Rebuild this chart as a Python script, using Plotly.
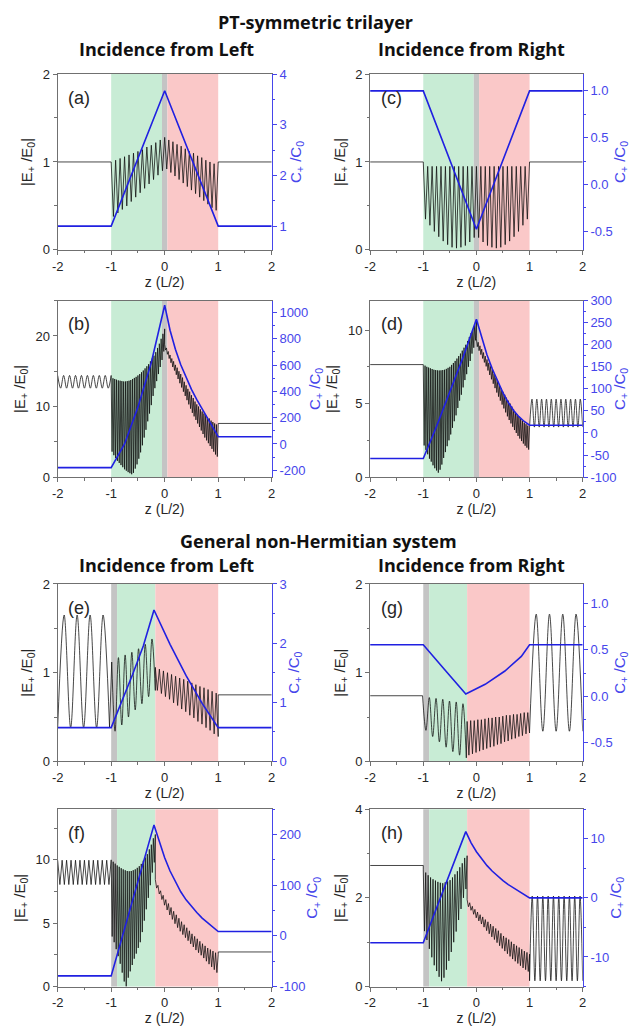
import numpy as np
import plotly.graph_objects as go
from plotly.subplots import make_subplots

# ---------------- data ----------------
X_TICKS = [-2, -1, 0, 1, 2]

PT_REGIONS = [("green", -1.0, -0.05), ("gray", -0.05, 0.05), ("pink", 0.05, 1.0)]
GEN_REGIONS = [("gray", -1.0, -0.89), ("green", -0.89, -0.175), ("pink", -0.175, 1.0)]

# (a) PT, incidence from left
A_SEG_BOUNDS = [(-2, -1), (-1, 0), (0, 1), (1, 2)]
A_SEG_E = [
    [1.0, 1.0],
    [1.0, 0.38, 1.02, 0.42, 1.04, 0.46, 1.06, 0.50, 1.08, 0.55, 1.10, 0.60, 1.12, 0.65,
     1.14, 0.70, 1.17, 0.75, 1.19, 0.80, 1.22, 0.85, 1.25, 0.90, 1.28],
    [1.28, 0.92, 1.25, 0.88, 1.23, 0.84, 1.20, 0.80, 1.18, 0.76, 1.15, 0.72, 1.12, 0.68,
     1.10, 0.64, 1.07, 0.60, 1.05, 0.56, 1.02, 0.52, 1.00, 0.48, 0.98, 0.45, 1.0],
    [1.0, 1.0],
]
A_BLUE_Z = [-2, -1, 0, 1, 2]
A_BLUE_C = [1.0, 1.0, 3.67, 1.0, 1.0]

# (c) PT, incidence from right
C_SEG_BOUNDS = [(-2, -1), (-1, 1), (1, 2)]
C_SEG_E = [
    [1.0, 1.0],
    [1.0, 0.35, 0.95, 0.28, 0.95, 0.21, 0.95, 0.15, 0.95, 0.10, 0.95, 0.06, 0.95, 0.03,
     0.95, 0.02, 0.95, 0.03, 0.95, 0.05, 0.95, 0.09, 0.95, 0.14, 0.95, 0.14, 0.95, 0.09,
     0.95, 0.05, 0.95, 0.03, 0.95, 0.02, 0.95, 0.03, 0.95, 0.06, 0.95, 0.10, 0.95, 0.15,
     0.95, 0.21, 0.95, 0.28, 0.95, 0.35, 1.0],
    [1.0, 1.0],
]
C_BLUE_Z = [-2, -1, 0, 1, 2]
C_BLUE_C = [1.0, 1.0, -0.48, 1.0, 1.0]

# (b) PT, left, amplified
B_SEG_BOUNDS = [(-2, -1), (-1, 0), (0, 1), (1, 2)]
B_SEG_E = [
    [14.4, 12.6, 14.4, 12.6, 14.4, 12.6, 14.4, 12.6, 14.4, 12.6, 14.4, 12.6, 14.4, 12.6,
     14.4, 12.6, 14.4, 12.6, 14.4],
    [14.2, 3.6, 14.0, 3.1, 13.9, 2.7, 13.8, 2.3, 13.7, 2.0, 13.65, 1.7, 13.6, 1.4, 13.55, 1.1,
     13.55, 0.9, 13.6, 0.7, 13.65, 0.55, 13.75, 0.4, 13.9, 0.6, 14.05, 1.2, 14.2, 1.8, 14.4, 2.6,
     14.6, 3.5, 14.85, 4.5, 15.1, 5.6, 15.4, 6.7, 15.7, 7.9, 16.0, 9.0, 16.4, 10.2, 16.8, 11.5,
     17.2, 12.6, 17.7, 13.6, 18.3, 14.6, 18.9, 15.6, 19.6, 16.6, 20.3, 17.8, 21.0],
    [18.8, 18.0, 18.3, 17.4, 17.8, 16.8, 17.3, 16.2, 16.8, 15.6, 16.4, 15.1, 15.9, 14.5, 15.5,
     13.9, 15.0, 13.3, 14.6, 12.7, 14.1, 12.1, 13.5, 11.5, 13.0, 10.9, 12.5, 10.3, 12.1, 9.7,
     11.6, 9.1, 11.2, 8.6, 10.7, 8.1, 10.3, 7.6, 10.0, 7.1, 9.6, 6.6, 9.3, 6.1, 9.0, 5.6, 8.8,
     5.2, 8.5, 4.8, 8.3, 4.4, 8.0, 4.0, 7.8, 3.6, 7.6, 3.2, 7.45, 2.9, 7.3],
    [7.6, 7.6],
]
B_BLUE_Z = [-2, -1, -0.75, -0.5, -0.25, 0, 0.1, 0.2, 0.3, 0.4, 0.5, 0.6, 0.7, 0.8, 0.9, 1, 2]
B_BLUE_C = [-180, -180, 0, 280, 620, 1055, 865, 720, 602, 502, 415, 337, 265, 195, 125, 55, 55]

# (d) PT, right, amplified
D_SEG_BOUNDS = [(-2, -1), (-1, 0), (0, 1), (1, 2)]
D_SEG_E = [
    [7.65, 7.65],
    [7.65, 2.15, 7.58, 1.85, 7.5, 1.55, 7.45, 1.25, 7.4, 1.05, 7.35, 0.8, 7.3, 0.6, 7.28, 0.45,
     7.26, 0.3, 7.25, 0.5, 7.26, 0.85, 7.28, 1.3, 7.3, 1.7, 7.36, 2.1, 7.43, 2.5, 7.5, 2.9,
     7.63, 3.35, 7.76, 3.8, 7.9, 4.2, 8.06, 4.7, 8.23, 5.2, 8.4, 5.6, 8.6, 6.1, 8.8, 6.6, 9.0,
     7.0, 9.26, 7.5, 9.53, 7.9, 9.8, 8.4, 10.06, 8.8, 10.33, 9.3, 10.6],
    [9.4, 8.87, 9.17, 8.6, 8.93, 8.33, 8.7, 8.07, 8.47, 7.8, 8.23, 7.53, 8.0, 7.25, 7.77, 6.95,
     7.53, 6.65, 7.3, 6.35, 7.03, 6.05, 6.77, 5.75, 6.5, 5.47, 6.27, 5.2, 6.03, 4.93, 5.8, 4.67,
     5.6, 4.4, 5.4, 4.13, 5.2, 3.88, 5.0, 3.65, 4.8, 3.42, 4.6, 3.2, 4.43, 3.0, 4.27, 2.8, 4.1,
     2.62, 3.97, 2.45, 3.83, 2.28, 3.7, 2.13, 3.6, 2.0, 3.5, 1.87, 3.4],
    [3.4, 5.3, 3.4, 5.3, 3.4, 5.3, 3.4, 5.3, 3.4, 5.3, 3.4, 5.3, 3.4, 5.3, 3.4, 5.3, 3.4, 5.3,
     3.4, 5.3, 3.4, 5.3, 3.4],
]
D_BLUE_Z = [-2, -1, -0.75, -0.5, -0.25, 0, 0.1, 0.2, 0.3, 0.4, 0.5, 0.6, 0.7, 0.8, 0.9, 1, 2]
D_BLUE_C = [-58, -58, 15, 95, 172, 258, 215, 177, 145, 116, 91, 69, 51, 37, 26, 17.5, 17.5]

# (e) general, left
E_SEG_BOUNDS = [(-2, -1.03), (-0.99, -0.175), (-0.175, 1.0), (1, 2)]
E_SEG_E = [
    [0.38, 1.65, 0.38, 1.65, 0.38, 1.65, 0.38, 1.65, 0.38],
    [1.12, 0.34, 1.17, 0.41, 1.20, 0.50, 1.23, 0.58, 1.27, 0.65, 1.32, 0.73, 1.38, 0.80],
    [1.06, 0.80, 1.04, 0.765, 1.02, 0.73, 1.0, 0.70, 0.98, 0.66, 0.96, 0.63, 0.94, 0.59,
     0.925, 0.56, 0.905, 0.52, 0.885, 0.49, 0.865, 0.45, 0.845, 0.42, 0.83, 0.38, 0.81, 0.35,
     0.79, 0.31, 0.77, 0.28],
    [0.75, 0.75],
]
E_BLUE_Z = [-2, -1, -0.6, -0.4, -0.2, 0.1, 0.4, 0.7, 1, 2]
E_BLUE_C = [0.57, 0.57, 1.47, 1.95, 2.56, 1.98, 1.45, 0.98, 0.57, 0.57]

# (g) general, right
G_SEG_BOUNDS = [(-2, -1.013), (-1.013, -0.19), (-0.175, 1.0), (1, 2)]
G_SEG_E = [
    [0.74, 0.74],
    [0.74, 0.35, 0.72, 0.28, 0.71, 0.22, 0.70, 0.16, 0.68, 0.11, 0.67, 0.07, 0.65, 0.04],
    [0.45, 0.07, 0.46, 0.085, 0.46, 0.10, 0.47, 0.115, 0.47, 0.13, 0.48, 0.145, 0.49, 0.16,
     0.49, 0.17, 0.50, 0.19, 0.50, 0.20, 0.51, 0.22, 0.52, 0.23, 0.52, 0.25, 0.53, 0.26, 0.53,
     0.28, 0.54, 0.29, 0.55, 0.31, 0.55, 0.32],
    [0.34, 1.66, 0.34, 1.66, 0.34, 1.66, 0.34, 1.66, 0.34],
]
G_BLUE_Z = [-2, -1, -0.6, -0.2, 0.165, 0.536, 0.845, 1, 2]
G_BLUE_C = [0.556, 0.556, 0.29, 0.025, 0.13, 0.273, 0.43, 0.556, 0.556]

# (f) general, left, amplified
F_SEG_BOUNDS = [(-2, -1), (-1, -0.175), (-0.175, 1.0), (1, 2)]
F_SEG_E = [
    [9.97, 8.05, 9.97, 8.05, 9.97, 8.05, 9.97, 8.05, 9.97, 8.05, 9.97, 8.05, 9.97, 8.05,
     9.97, 8.05, 9.97, 8.05, 9.97, 8.05, 9.97, 8.05, 9.97, 8.05, 9.97],
    [10.0, 3.95, 9.85, 3.5, 9.7, 2.95, 9.56, 2.4, 9.45, 1.8, 9.34, 1.1, 9.25, 0.4, 9.18, 0.0,
     9.12, 0.7, 9.1, 1.2, 9.12, 1.7, 9.18, 2.2, 9.25, 2.6, 9.37, 3.05, 9.5, 3.5, 9.68, 4.3,
     9.93, 5.2, 10.18, 6.1, 10.45, 7.0, 10.83, 8.0, 11.2, 9.0, 11.7, 9.8, 12.0],
    [8.45, 7.77, 7.99, 7.31, 7.56, 6.87, 7.2, 6.42, 6.86, 6.04, 6.55, 5.65, 6.24, 5.3, 5.94,
     4.96, 5.66, 4.65, 5.39, 4.36, 5.12, 4.1, 4.88, 3.86, 4.64, 3.62, 4.4, 3.37, 4.16, 3.13,
     3.96, 2.88, 3.77, 2.67, 3.57, 2.47, 3.38, 2.25, 3.21, 2.0, 3.04, 1.77, 2.92, 1.55, 2.8,
     1.33, 2.67, 1.1, 2.55],
    [2.73, 2.73],
]
F_BLUE_Z = [-2, -1, -0.2, -0.1, 0, 0.1, 0.2, 0.3, 0.4, 0.5, 0.6, 0.7, 0.8, 0.9, 1, 2]
F_BLUE_C = [-79, -79, 219, 184, 154, 128, 106, 87, 71, 58, 46, 35, 26, 17, 8.5, 8.5]

# (h) general, right, amplified
H_SEG_BOUNDS = [(-2, -1), (-1, -0.175), (-0.175, 1.0), (1, 2)]
H_SEG_E = [
    [2.73, 2.73],
    [2.63, 1.25, 2.57, 1.05, 2.51, 0.85, 2.46, 0.66, 2.42, 0.48, 2.39, 0.35, 2.36, 0.22, 2.34,
     0.12, 2.33, 0.2, 2.35, 0.38, 2.37, 0.58, 2.4, 0.78, 2.46, 1.0, 2.53, 1.24, 2.6, 1.5, 2.69,
     1.75, 2.78, 2.0, 2.9, 2.2, 2.95],
    [1.96, 1.8, 1.89, 1.72, 1.81, 1.63, 1.74, 1.55, 1.68, 1.48, 1.62, 1.41, 1.57, 1.34, 1.51,
     1.26, 1.46, 1.19, 1.41, 1.12, 1.36, 1.06, 1.31, 0.99, 1.26, 0.92, 1.2, 0.86, 1.14, 0.8,
     1.1, 0.74, 1.06, 0.68, 1.01, 0.62, 0.96, 0.57, 0.92, 0.52, 0.88, 0.47, 0.84, 0.42, 0.8,
     0.38, 0.77, 0.34, 0.73],
    [0.13, 2.04, 0.13, 2.04, 0.13, 2.04, 0.13, 2.04, 0.13, 2.04, 0.13, 2.04, 0.13, 2.04, 0.13,
     2.04, 0.13, 2.04, 0.13, 2.04, 0.13],
]
H_BLUE_Z = [-2, -1, -0.2, -0.1, 0, 0.1, 0.2, 0.3, 0.4, 0.5, 0.6, 0.7, 0.8, 0.9, 1, 2]
H_BLUE_C = [-7.6, -7.6, 11.2, 9.3, 7.8, 6.55, 5.45, 4.5, 3.65, 2.9, 2.25, 1.65, 1.05, 0.5, 0.0, 0.0]

# axis ranges / ticks
A_AX = dict(e_range=[0, 2], e_ticks=[0, 1, 2], e_minor=0.5, c_range=[0.53, 4], c_ticks=[1, 2, 3, 4], c_minor=0.5, c_fmt="{:g}")
C_AX = dict(e_range=[0, 2], e_ticks=[0, 1, 2], e_minor=0.5, c_range=[-0.7, 1.18], c_ticks=[-0.5, 0, 0.5, 1.0], c_minor=0.25, c_fmt="{:.1f}")
B_AX = dict(e_range=[0, 25], e_ticks=[0, 10, 20], e_minor=5, c_range=[-252, 1090], c_ticks=[-200, 0, 200, 400, 600, 800, 1000], c_minor=100, c_fmt="{:g}")
D_AX = dict(e_range=[0, 12], e_ticks=[0, 5, 10], e_minor=2.5, c_range=[-100, 300], c_ticks=[-100, -50, 0, 50, 100, 150, 200, 250, 300], c_minor=25, c_fmt="{:g}")
E_AX = dict(e_range=[0, 2], e_ticks=[0, 1, 2], e_minor=0.5, c_range=[0, 3], c_ticks=[0, 1, 2, 3], c_minor=0.5, c_fmt="{:g}")
G_AX = dict(e_range=[0, 2], e_ticks=[0, 1, 2], e_minor=0.5, c_range=[-0.7, 1.21], c_ticks=[-0.5, 0, 0.5, 1.0], c_minor=0.25, c_fmt="{:.1f}")
F_AX = dict(e_range=[0, 14], e_ticks=[0, 5, 10], e_minor=2.5, c_range=[-100, 250], c_ticks=[-100, 0, 100, 200], c_minor=50, c_fmt="{:g}")
H_AX = dict(e_range=[0, 4], e_ticks=[0, 2, 4], e_minor=1, c_range=[-15, 15], c_ticks=[-10, 0, 10], c_minor=5, c_fmt="{:g}")

PANELS = [
    ("(a)", 1, 1, PT_REGIONS, A_SEG_BOUNDS, A_SEG_E, A_BLUE_Z, A_BLUE_C, A_AX),
    ("(c)", 1, 2, PT_REGIONS, C_SEG_BOUNDS, C_SEG_E, C_BLUE_Z, C_BLUE_C, C_AX),
    ("(b)", 2, 1, PT_REGIONS, B_SEG_BOUNDS, B_SEG_E, B_BLUE_Z, B_BLUE_C, B_AX),
    ("(d)", 2, 2, PT_REGIONS, D_SEG_BOUNDS, D_SEG_E, D_BLUE_Z, D_BLUE_C, D_AX),
    ("(e)", 3, 1, GEN_REGIONS, E_SEG_BOUNDS, E_SEG_E, E_BLUE_Z, E_BLUE_C, E_AX),
    ("(g)", 3, 2, GEN_REGIONS, G_SEG_BOUNDS, G_SEG_E, G_BLUE_Z, G_BLUE_C, G_AX),
    ("(f)", 4, 1, GEN_REGIONS, F_SEG_BOUNDS, F_SEG_E, F_BLUE_Z, F_BLUE_C, F_AX),
    ("(h)", 4, 2, GEN_REGIONS, H_SEG_BOUNDS, H_SEG_E, H_BLUE_Z, H_BLUE_C, H_AX),
]

# ---------------- style ----------------
W, H = 630, 1032
COL_PX = {1: (52.5, 270.0), 2: (370.0, 586.0)}
ROW_PX = {1: (68.0, 246.5), 2: (298.0, 477.0), 3: (585.5, 765.5), 4: (814.0, 994.0)}
REGION_COLORS = {"green": "rgb(200,236,213)", "gray": "rgb(196,196,196)", "pink": "rgb(250,200,200)"}
BLACK = "rgba(15,15,15,0.85)"
BLUE = "rgb(32,32,225)"
AXBLUE = "rgb(70,70,235)"
AXGRAY = "#707070"
TXT = "#262626"
FONT = "Arial"


def build_black(bounds, parts):
    lin_x, lin_y, smooth = [], [], []
    for (z0, z1), vals in zip(bounds, parts):
        z = np.linspace(z0, z1, len(vals))
        step = (z1 - z0) / (len(vals) - 1)
        if len(vals) > 2 and step > 0.043:
            lin_x += [z[0], None, z[-1]]
            lin_y += [vals[0], None, vals[-1]]
            smooth.append((list(z), list(vals)))
        else:
            lin_x += list(z)
            lin_y += list(vals)
    return lin_x, lin_y, smooth


fig = make_subplots(rows=4, cols=2,
                    specs=[[{"secondary_y": True}, {"secondary_y": True}] for _ in range(4)])

for label, r, c, regions, bounds, parts, bz, bc, ax in PANELS:
    lx, ly, smooth = build_black(bounds, parts)
    fig.add_trace(go.Scatter(x=lx, y=ly, mode="lines", line=dict(color=BLACK, width=0.9),
                             hoverinfo="skip", showlegend=False), row=r, col=c, secondary_y=False)
    for sz, sv in smooth:
        fig.add_trace(go.Scatter(x=sz, y=sv, mode="lines",
                                 line=dict(color=BLACK, width=0.9, shape="spline", smoothing=1.0),
                                 hoverinfo="skip", showlegend=False), row=r, col=c, secondary_y=False)
    fig.add_trace(go.Scatter(x=bz, y=bc, mode="lines", line=dict(color=BLUE, width=1.6),
                             hoverinfo="skip", showlegend=False), row=r, col=c, secondary_y=True)

    for name, x0, x1 in regions:
        fig.add_vrect(x0=x0, x1=x1, row=r, col=c, fillcolor=REGION_COLORS[name], opacity=1,
                      line_width=0, layer="below", exclude_empty_subplots=False)

    xd = [COL_PX[c][0] / W, COL_PX[c][1] / W]
    yd = [1 - ROW_PX[r][1] / H, 1 - ROW_PX[r][0] / H]

    fig.update_xaxes(row=r, col=c, domain=xd, range=[-2, 2], tickmode="array", tickvals=X_TICKS,
                     ticktext=["{:g}".format(v) for v in X_TICKS],
                     minor=dict(tickmode="linear", tick0=0, dtick=0.5, ticklen=2.5, ticks="outside", tickcolor=AXGRAY, showgrid=False),
                     showline=True, linecolor=AXGRAY, linewidth=1, mirror=True, ticks="outside", ticklen=4,
                     tickcolor=AXGRAY, showgrid=False, zeroline=False,
                     tickfont=dict(family=FONT, size=13, color=TXT),
                     title=dict(text="z (L/2)", font=dict(family=FONT, size=14, color=TXT), standoff=3))
    fig.update_yaxes(row=r, col=c, secondary_y=False, domain=yd, range=ax["e_range"], tickmode="array",
                     tickvals=ax["e_ticks"], ticktext=["{:g}".format(v) for v in ax["e_ticks"]],
                     minor=dict(tickmode="linear", tick0=0, dtick=ax["e_minor"], ticklen=2.5, ticks="outside", tickcolor=AXGRAY, showgrid=False),
                     showline=True, linecolor=AXGRAY, linewidth=1, mirror=False, ticks="outside", ticklen=4,
                     tickcolor=AXGRAY, showgrid=False, zeroline=False,
                     tickfont=dict(family=FONT, size=13, color=TXT),
                     title=dict(text="|E<sub>+</sub> /E<sub>0</sub>|", font=dict(family=FONT, size=15, color=TXT), standoff=6))
    fig.update_yaxes(row=r, col=c, secondary_y=True, domain=yd, range=ax["c_range"], tickmode="array",
                     tickvals=ax["c_ticks"], ticktext=[ax["c_fmt"].format(v) for v in ax["c_ticks"]],
                     minor=dict(tickmode="linear", tick0=0, dtick=ax["c_minor"], ticklen=2.5, ticks="outside", tickcolor=AXBLUE, showgrid=False),
                     showline=True, linecolor=AXBLUE, linewidth=1.2, ticks="outside", ticklen=4,
                     tickcolor=AXBLUE, showgrid=False, zeroline=False,
                     tickfont=dict(family=FONT, size=13, color=AXBLUE),
                     title=dict(text="C<sub>+</sub> /C<sub>0</sub>", font=dict(family=FONT, size=15, color=AXBLUE), standoff=2))

    fig.add_annotation(text=label, x=0.04, y=0.865, xref="x domain", yref="y domain", row=r, col=c,
                       xanchor="left", yanchor="middle", showarrow=False,
                       font=dict(family=FONT, size=18, color=TXT))

TITLES = [
    ("PT-symmetric trilayer", 314, 15),
    ("Incidence from Left", 163, 43),
    ("Incidence from Right", 472.5, 43),
    ("General non-Hermitian system", 318, 542),
    ("Incidence from Left", 163, 566.5),
    ("Incidence from Right", 472.5, 566.5),
]
for text, px, py in TITLES:
    fig.add_annotation(text="<b>" + text + "</b>", x=px / W, y=1 - py / H, xref="paper", yref="paper",
                       xanchor="center", yanchor="middle", showarrow=False,
                       font=dict(family="Open Sans", size=18, color="#111"))

fig.update_layout(width=W, height=H, margin=dict(l=0, r=0, t=0, b=0),
                  plot_bgcolor="white", paper_bgcolor="white", showlegend=False)

fig.write_html("out.html")
